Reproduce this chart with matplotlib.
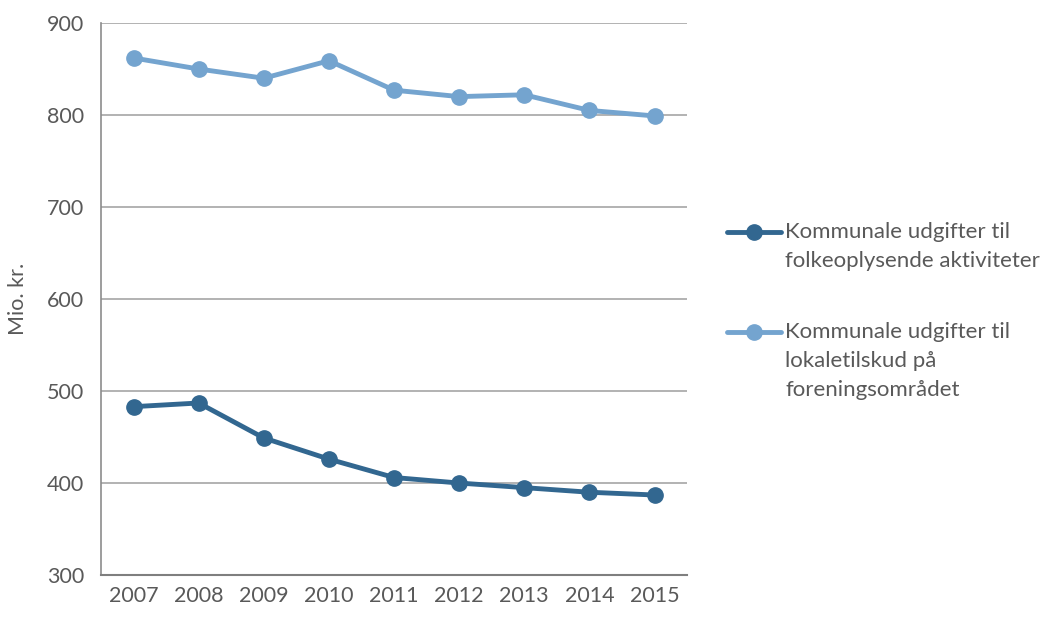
import matplotlib.pyplot as plt
from matplotlib.lines import Line2D

plt.rcParams['font.family'] = ['Lato', 'DejaVu Sans']

years = ["2007", "2008", "2009", "2010", "2011", "2012", "2013", "2014", "2015"]
folkeoplysende = [483, 487, 449, 426, 406, 400, 395, 390, 387]
lokaletilskud = [862, 850, 840, 859, 827, 820, 822, 805, 799]

label_dark = "Kommunale udgifter til\nfolkeoplysende aktiviteter"
label_light = "Kommunale udgifter til\nlokaletilskud på\nforeningsområdet"

dark = "#326790"
light = "#74A4CF"
text_col = "#595959"

W, H = 1043, 617
fig = plt.figure(figsize=(W / 100, H / 100), dpi=100)
ax = fig.add_axes([0.0968, 0.068, 0.562, 0.8947])

x = range(len(years))
ax.plot(x, folkeoplysende, color=dark, lw=3.5, marker="o", ms=11, label=label_dark)
ax.plot(x, lokaletilskud, color=light, lw=3.5, marker="o", ms=11, label=label_light)

ax.set_xlim(-0.5, len(years) - 0.5)
ax.set_ylim(300, 900)
ax.set_yticks(range(300, 901, 100))
ax.set_xticks(list(x))
ax.set_xticklabels(years)
ax.yaxis.grid(True, color="#A6A6A6", lw=1.2)
ax.set_axisbelow(True)
for s in ["top", "right"]:
    ax.spines[s].set_visible(False)
ax.spines["left"].set_color("#8C8C8C")
ax.spines["bottom"].set_color("#7F7F7F")
ax.spines["left"].set_linewidth(1.2)
ax.spines["bottom"].set_linewidth(1.5)
ax.tick_params(length=0, labelsize=15.5, colors=text_col, pad=8)
ax.tick_params(axis="y", pad=12)
ax.set_ylabel("Mio. kr.", fontsize=15.5, color=text_col, labelpad=14)

# legend drawn by hand: handle sits on the first line of each label
def legend_entry(label, color, y_px):
    yf = 1 - y_px / H
    fig.add_artist(Line2D([727 / W, 781 / W], [yf, yf], color=color, lw=3.5,
                          solid_capstyle="round", transform=fig.transFigure))
    fig.add_artist(Line2D([754 / W], [yf], color=color, marker="o", ms=11,
                          transform=fig.transFigure))
    for i, line in enumerate(label.split("\n")):
        fig.text(785 / W, 1 - (y_px + i * 29) / H, line, fontsize=16,
                 color=text_col, va="center", ha="left")

legend_entry(label_dark, dark, 232)
legend_entry(label_light, light, 332)

fig.savefig("out.png", dpi=100)
